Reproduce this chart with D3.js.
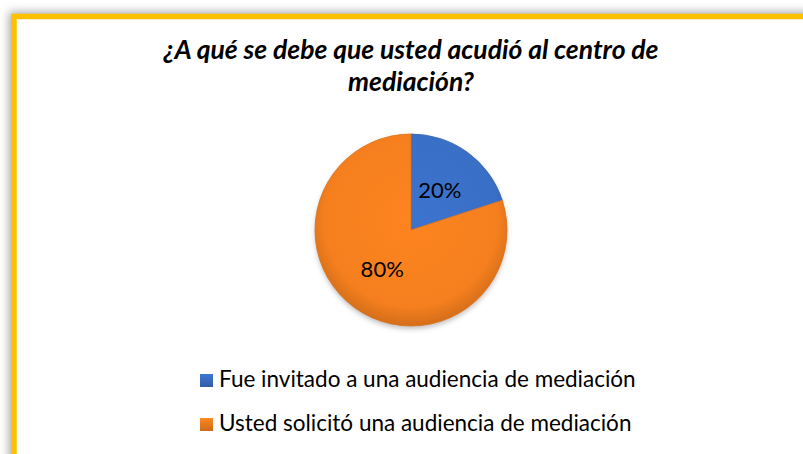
<!DOCTYPE html>
<html>
<head>
<meta charset="utf-8">
<script src="https://cdn.jsdelivr.net/npm/d3@7"></script>
<style>
  body { margin: 0; background: #fff; }
  svg { display: block; }
  text { font-family: Lato, "Open Sans", sans-serif; fill: #000; }
</style>
</head>
<body>
<svg id="chart" width="803" height="454"></svg>
<script>
const titleLines = ["¿A qué se debe que usted acudió al centro de", "mediación?"];
const categories = ["Fue invitado a una audiencia de mediación", "Usted solicitó una audiencia de mediación"];
const values = [20, 80];
const colors = ["#3a6fc6", "#f57f1e"];

const svg = d3.select("#chart");
const width = 803, height = 454;

const defs = svg.append("defs");

// soft shadow behind the frame
let shadow = defs.append("filter").attr("id", "shadow")
  .attr("x", "-10%").attr("y", "-10%").attr("width", "120%").attr("height", "120%");
shadow.append("feGaussianBlur").attr("stdDeviation", 5);

let pieShadow = defs.append("filter").attr("id", "pieShadow")
  .attr("x", "-20%").attr("y", "-20%").attr("width", "140%").attr("height", "140%");
pieShadow.append("feGaussianBlur").attr("stdDeviation", 2.5);

// gradient per slice for the bevelled look (coords are relative to the pie centre)
colors.forEach((c, i) => {
  let g = defs.append("radialGradient").attr("id", "grad" + i)
    .attr("gradientUnits", "userSpaceOnUse")
    .attr("cx", 0).attr("cy", -10).attr("r", 106);
  g.append("stop").attr("offset", "0%").attr("stop-color", d3.color(c).brighter(0.1));
  g.append("stop").attr("offset", "82%").attr("stop-color", c);
  g.append("stop").attr("offset", "100%").attr("stop-color", d3.color(c).darker(0.4));
  let s = defs.append("linearGradient").attr("id", "sw" + i)
    .attr("x1", 0).attr("y1", 0).attr("x2", 0).attr("y2", 1);
  s.append("stop").attr("offset", "0%").attr("stop-color", d3.color(c).brighter(0.2));
  s.append("stop").attr("offset", "100%").attr("stop-color", d3.color(c).darker(0.5));
});

// frame
svg.append("rect")
  .attr("x", 9).attr("y", 12).attr("width", 820).attr("height", 470)
  .attr("fill", "#a8a8a8").attr("filter", "url(#shadow)");
svg.append("rect")
  .attr("x", 14).attr("y", 16.5).attr("width", 820).attr("height", 470)
  .attr("fill", "#fff").attr("stroke", "#ffc000").attr("stroke-width", 5.5);

// title
svg.append("g").selectAll("text")
  .data(titleLines)
  .join("text")
  .attr("x", 411)
  .attr("y", (d, i) => 59 + i * 32)
  .attr("text-anchor", "middle")
  .attr("font-size", 26.5)
  .attr("font-weight", "bold")
  .attr("font-style", "italic")
  .text(d => d);

// pie
const cx = 411, cy = 230, radius = 96;
const pie = d3.pie().sort(null).value(d => d);
const arcData = pie(values);
const arc = d3.arc().innerRadius(0).outerRadius(radius);
const labelArc = d3.arc().innerRadius(49).outerRadius(49);

const g = svg.append("g").attr("transform", `translate(${cx},${cy})`);
g.append("circle")
  .attr("cy", 3).attr("r", radius)
  .attr("fill", "#999").attr("opacity", 0.6)
  .attr("filter", "url(#pieShadow)");
g.selectAll("path")
  .data(arcData)
  .join("path")
  .attr("d", arc)
  .attr("fill", (d, i) => `url(#grad${i})`)
  .attr("stroke", (d, i) => d3.color(colors[i]).darker(0.3))
  .attr("stroke-width", 0.8);

g.selectAll("text")
  .data(arcData)
  .join("text")
  .attr("transform", d => `translate(${labelArc.centroid(d)})`)
  .attr("text-anchor", "middle")
  .attr("dy", "0.35em")
  .attr("font-size", 22)
  .text(d => d.data + "%");

// legend
const legend = svg.append("g").selectAll("g")
  .data(categories)
  .join("g")
  .attr("transform", (d, i) => `translate(200, ${374 + i * 44})`);
legend.append("rect")
  .attr("width", 13).attr("height", 13)
  .attr("fill", (d, i) => `url(#sw${i})`);
legend.append("text")
  .attr("x", 19).attr("y", 13)
  .attr("font-size", 22.5)
  .text(d => d);
</script>
</body>
</html>
